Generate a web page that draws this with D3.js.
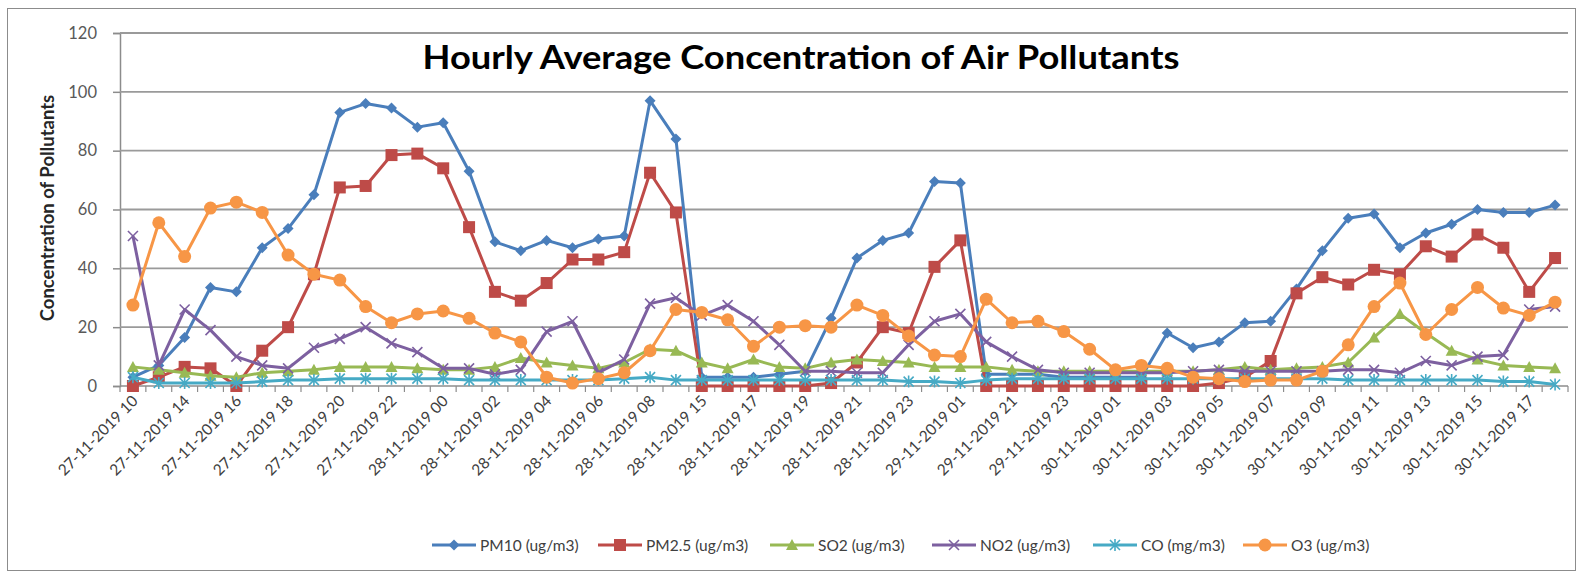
<!DOCTYPE html>
<html>
<head>
<meta charset="utf-8">
<script src="https://cdn.jsdelivr.net/npm/d3@7"></script>
<style>
  html, body { margin: 0; padding: 0; background: #fff; }
  svg { display: block; font-family: Lato, "Open Sans", sans-serif; }
</style>
</head>
<body>
<svg id="chart" width="1580" height="576"></svg>
<script>
const categories = [
  "27-11-2019 10","27-11-2019 13","27-11-2019 14","27-11-2019 15","27-11-2019 16","27-11-2019 17",
  "27-11-2019 18","27-11-2019 19","27-11-2019 20","27-11-2019 21","27-11-2019 22","27-11-2019 23",
  "28-11-2019 00","28-11-2019 01","28-11-2019 02","28-11-2019 03","28-11-2019 04","28-11-2019 05",
  "28-11-2019 06","28-11-2019 07","28-11-2019 08","28-11-2019 09","28-11-2019 15","28-11-2019 16",
  "28-11-2019 17","28-11-2019 18","28-11-2019 19","28-11-2019 20","28-11-2019 21","28-11-2019 22",
  "28-11-2019 23","29-11-2019 00","29-11-2019 01","29-11-2019 20","29-11-2019 21","29-11-2019 22",
  "29-11-2019 23","30-11-2019 00","30-11-2019 01","30-11-2019 02","30-11-2019 03","30-11-2019 04",
  "30-11-2019 05","30-11-2019 06","30-11-2019 07","30-11-2019 08","30-11-2019 09","30-11-2019 10",
  "30-11-2019 11","30-11-2019 12","30-11-2019 13","30-11-2019 14","30-11-2019 15","30-11-2019 16",
  "30-11-2019 17","30-11-2019 18"
];
const pm10 = [3,7,16.5,33.5,32,47,53.5,65,93,96,94.5,88,89.5,73,49,46,49.5,47,50,51,97,84,3,3,3,4,5,23,43.5,49.5,52,69.5,69,4,4,4,3,3,3,3,18,13,15,21.5,22,33,46,57,58.5,47,52,55,60,59,59,61.5];
const pm25 = [0,3,6.5,6,0,12,20,38,67.5,68,78.5,79,74,54,32,29,35,43,43,45.5,72.5,59,0,0,0,0,0,1,8,20,18,40.5,49.5,0,0,0,0,0,0,0,0,0,1,3,8.5,31.5,37,34.5,39.5,38,47.5,44,51.5,47,32,43.5];
const so2 = [6.5,5.5,4.5,3.5,3,4.5,5,5.5,6.5,6.5,6.5,6,5.5,5.5,6.5,9.5,8,7,6,8,12.5,12,8,6,9,6.5,6,8,9,8.5,8,6.5,6.5,6.5,5.5,5,5,5,5,5,5,5,5.5,6.5,5.5,6,6.5,8,16.5,24.5,18,12,9,7,6.5,6];
const no2 = [51,7,26,19,10,7,6,13,16,20,14.5,11.5,6,6,4,5.5,18.5,22,4.5,9,28,30,24,27.5,22,14,5,5,4.5,4.5,14,22,24.5,15,10,5.5,4.5,4.5,4.5,4.5,4.5,5,5.5,5,5,5,5,5.5,5.5,4.5,8.5,7,10,10.5,26,27];
const co = [3,1,1,1,1,1.5,2,2,2.5,2.5,2.5,2.5,2.5,2,2,2,2,2,2,2.5,3,2,2,2,2,2,2,2,2,2,1.5,1.5,1,2,2.5,2.5,2.5,2.5,2.5,2.5,2.5,2.5,2.5,2.5,2.5,2.5,2.5,2,2,2,2,2,2,1.5,1.5,0.5];
const o3 = [27.5,55.5,44,60.5,62.5,59,44.5,38,36,27,21.5,24.5,25.5,23,18,15,3,1,2.5,4.5,12,26,25,22.5,13.5,20,20.5,20,27.5,24,17,10.5,10,29.5,21.5,22,18.5,12.5,5.5,7,6,3,2.5,1.5,2,2,5,14,27,35,17.5,26,33.5,26.5,24,28.5];
const seriesNames = ["PM10 (ug/m3)","PM2.5 (ug/m3)","SO2 (ug/m3)","NO2 (ug/m3)","CO (mg/m3)","O3 (ug/m3)"];
const yTicks = [0,20,40,60,80,100,120];
const titleText = "Hourly Average Concentration of Air Pollutants";
const yTitle = "Concentration of Pollutants";

const seriesValues = [pm10, pm25, so2, no2, co, o3];
const colors = ["#4a7ebb","#be4b48","#98b954","#7d60a0","#46aac5","#f79646"];
const markerTypes = ["diamond","square","triangle","x","asterisk","circle"];

const svg = d3.select("#chart");
const plot = {left: 120, right: 1568, top: 33, bottom: 386};

// chart border
svg.append("rect").attr("x", 7.5).attr("y", 8.5).attr("width", 1568).attr("height", 562)
  .attr("fill", "#fff").attr("stroke", "#8c8c8c").attr("stroke-width", 1);

const x = d3.scaleBand().domain(d3.range(categories.length)).range([plot.left, plot.right]);
const cx = i => x(i) + x.bandwidth() / 2;
const y = d3.scaleLinear().domain([0, 120]).range([plot.bottom, plot.top]);

// gridlines + y axis
const yAxis = d3.axisLeft(y).tickValues(yTicks).tickSize(7).tickPadding(16);
const gy = svg.append("g").attr("transform", `translate(${plot.left},0)`).call(yAxis);
gy.select(".domain").attr("stroke", "#8c8c8c").attr("stroke-width", 1.5);
gy.selectAll(".tick line").attr("stroke", "#8c8c8c").attr("stroke-width", 1.5);
gy.selectAll(".tick text").attr("font-family", "Lato, sans-serif").attr("font-size", 16.5).attr("fill", "#595959");

svg.append("g").selectAll("line").data(yTicks.filter(v => v > 0)).join("line")
  .attr("x1", plot.left).attr("x2", plot.right)
  .attr("y1", d => y(d)).attr("y2", d => y(d))
  .attr("stroke", "#9a9a9a").attr("stroke-width", 1.8);

// x axis
const gx = svg.append("g");
gx.append("line").attr("x1", plot.left).attr("x2", plot.right).attr("y1", y(0)).attr("y2", y(0))
  .attr("stroke", "#8c8c8c").attr("stroke-width", 1.5);
const bounds = d3.range(categories.length + 1).map(i => i < categories.length ? x(i) : plot.right);
gx.selectAll("line.tk").data(bounds).join("line").attr("class", "tk")
  .attr("x1", d => d).attr("x2", d => d).attr("y1", y(0)).attr("y2", y(0) + 6)
  .attr("stroke", "#8c8c8c").attr("stroke-width", 1.2);
gx.selectAll("text").data(d3.range(0, categories.length, 2)).join("text")
  .attr("transform", i => `translate(${cx(i) + 6},${y(0) + 16}) rotate(-45)`)
  .attr("text-anchor", "end")
  .attr("font-size", 15.5).attr("fill", "#404040")
  .text(i => categories[i]);

// title
svg.append("text").attr("x", 801).attr("y", 69).attr("text-anchor", "middle")
  .attr("font-family", "Lato, sans-serif").attr("font-weight", "bold").attr("font-size", 33)
  .attr("textLength", 757).attr("lengthAdjust", "spacingAndGlyphs")
  .attr("fill", "#000").text(titleText);

// y title
svg.append("text").attr("transform", "translate(54,208) rotate(-90)").attr("text-anchor", "middle")
  .attr("font-weight", "bold").attr("font-size", 18.5).attr("fill", "#262626").text(yTitle);

// marker drawing
function drawMarker(g, type, color, px, py) {
  if (type === "diamond") {
    g.append("path").attr("d", `M${px},${py-5.5}L${px+5.5},${py}L${px},${py+5.5}L${px-5.5},${py}Z`).attr("fill", color);
  } else if (type === "square") {
    g.append("rect").attr("x", px - 6).attr("y", py - 6).attr("width", 12).attr("height", 12).attr("fill", color);
  } else if (type === "triangle") {
    g.append("path").attr("d", `M${px},${py-6}L${px+6},${py+5}L${px-6},${py+5}Z`).attr("fill", color);
  } else if (type === "x") {
    g.append("path").attr("d", `M${px-5},${py-5}L${px+5},${py+5}M${px+5},${py-5}L${px-5},${py+5}`)
      .attr("stroke", color).attr("stroke-width", 1.6).attr("fill", "none");
  } else if (type === "asterisk") {
    g.append("path").attr("d", `M${px-5},${py-5}L${px+5},${py+5}M${px+5},${py-5}L${px-5},${py+5}M${px},${py-6}L${px},${py+6}`)
      .attr("stroke", color).attr("stroke-width", 1.6).attr("fill", "none");
  } else if (type === "circle") {
    g.append("circle").attr("cx", px).attr("cy", py).attr("r", 6.5).attr("fill", color);
  }
}

const line = d3.line().x((d, i) => cx(i)).y(d => y(d));
seriesValues.forEach((vals, s) => {
  const g = svg.append("g");
  g.append("path").datum(vals).attr("d", line).attr("fill", "none")
    .attr("stroke", colors[s]).attr("stroke-width", 3).attr("stroke-linejoin", "round");
  vals.forEach((v, i) => drawMarker(g, markerTypes[s], colors[s], cx(i), y(v)));
});

// legend
const legendX = [432, 598, 770, 932, 1093, 1243];
const lg = svg.append("g");
seriesNames.forEach((name, s) => {
  const lx = legendX[s], ly = 545;
  lg.append("line").attr("x1", lx).attr("x2", lx + 44).attr("y1", ly).attr("y2", ly)
    .attr("stroke", colors[s]).attr("stroke-width", 3);
  drawMarker(lg, markerTypes[s], colors[s], lx + 22, ly);
  lg.append("text").attr("x", lx + 48).attr("y", ly + 5.5).attr("font-size", 15.5).attr("fill", "#404040").text(name);
});
</script>
</body>
</html>
